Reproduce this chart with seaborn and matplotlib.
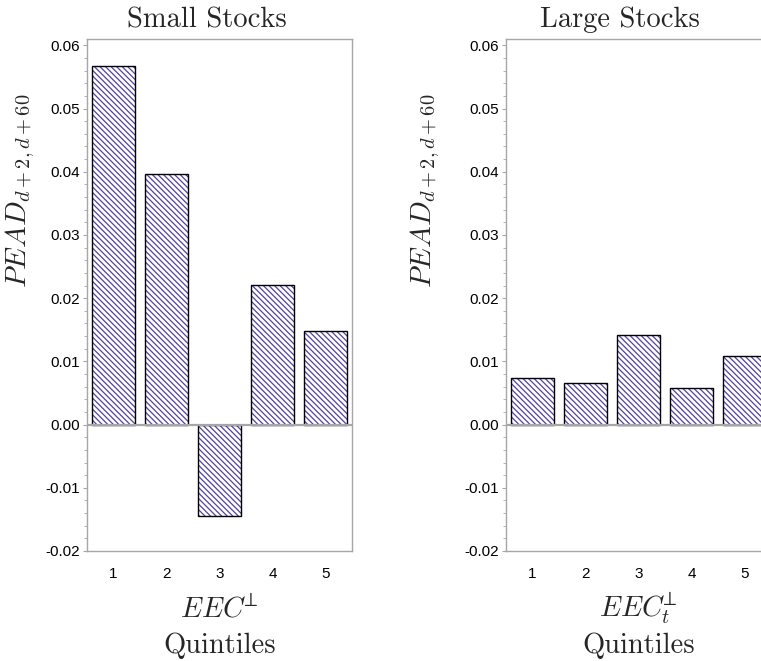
import matplotlib
matplotlib.use("Agg")
import matplotlib.pyplot as plt
from matplotlib.patches import Rectangle
from matplotlib.ticker import MultipleLocator, FormatStrFormatter
import pandas as pd
import seaborn as sns

# Post-earnings-announcement drift by EEC quintile
quintiles = ["1", "2", "3", "4", "5"]
small_pead = [0.0567, 0.0396, -0.0144, 0.0221, 0.0148]
large_pead = [0.0073, 0.0066, 0.0141, 0.0058, 0.0109]

panel_titles = ["Small Stocks", "Large Stocks"]
x_symbols = [r"$EEC^{\!\!\perp}$", r"$EEC_t^{\!\!\perp}$"]
y_symbol = r"$PEAD_{d+2,d+60}$"

sns.set_theme(style="white")
plt.rcParams["font.family"] = ["Liberation Sans", "DejaVu Sans"]
plt.rcParams["mathtext.fontset"] = "cm"
plt.rcParams["axes.unicode_minus"] = False
plt.rcParams["hatch.linewidth"] = 0.9

HATCH_COLOR = "#5240a4"
GRID_GRAY = "#a6a6a6"
W, H = 761, 661

fig = plt.figure(figsize=(W / 100, H / 100), dpi=100)
ax_small = fig.add_axes([87 / W, 110 / H, 265 / W, 512 / H])
ax_large = fig.add_axes([506 / W, 110 / H, 265 / W, 512 / H])

panels = [
    (ax_small, small_pead, panel_titles[0], x_symbols[0], 0.453, -0.189),
    (ax_large, large_pead, panel_titles[1], x_symbols[1], 0.430, -0.2415),
]

for ax, values, title, xsym, title_x, ylab_x in panels:
    df = pd.DataFrame({"quintile": quintiles, "pead": values})
    sns.barplot(data=df, x="quintile", y="pead", order=quintiles, ax=ax,
                color="white", saturation=1, edgecolor=HATCH_COLOR,
                linewidth=0, hatch="\\" * 6, width=0.8, zorder=2)
    # black outlines on top of the hatched bars
    for p in list(ax.patches):
        ax.add_patch(Rectangle(p.get_xy(), p.get_width(), p.get_height(),
                               fill=False, edgecolor="black", linewidth=1.0,
                               zorder=3))

    ax.axhline(0, color=GRID_GRAY, linewidth=1.6, zorder=4)
    ax.set_xlim(-0.5, 4.5)
    ax.set_ylim(-0.02, 0.061)

    ax.yaxis.set_major_locator(MultipleLocator(0.01))
    ax.yaxis.set_minor_locator(MultipleLocator(0.002))
    ax.yaxis.set_major_formatter(FormatStrFormatter("%.2f"))
    ax.tick_params(axis="y", which="major", direction="out", length=3,
                   width=0.8, color=GRID_GRAY, labelsize=11, pad=2,
                   left=True, labelcolor="black")
    ax.tick_params(axis="y", which="minor", direction="out", length=2,
                   width=0.6, color=GRID_GRAY, left=True)
    ax.tick_params(axis="x", length=0, labelsize=11, pad=11.5,
                   labelcolor="black")

    for side in ["left", "right", "top", "bottom"]:
        ax.spines[side].set_visible(True)
        ax.spines[side].set_color(GRID_GRAY)
        ax.spines[side].set_linewidth(1.0)

    ax.set_xlabel("")
    ax.set_ylabel(y_symbol, fontsize=21)
    ax.yaxis.set_label_coords(ylab_x, 0.703)

    ax.text(title_x, 1.0234, title, transform=ax.transAxes, ha="center",
            va="baseline", fontsize=20.5, fontfamily="cmr10")
    ax.text(0.5, -0.129, xsym, transform=ax.transAxes, ha="center",
            va="baseline", fontsize=20.5)
    ax.text(0.5, -0.2, "Quintiles", transform=ax.transAxes, ha="center",
            va="baseline", fontsize=20.5, fontfamily="cmr10")

fig.savefig("out.png", dpi=100, facecolor="white")
